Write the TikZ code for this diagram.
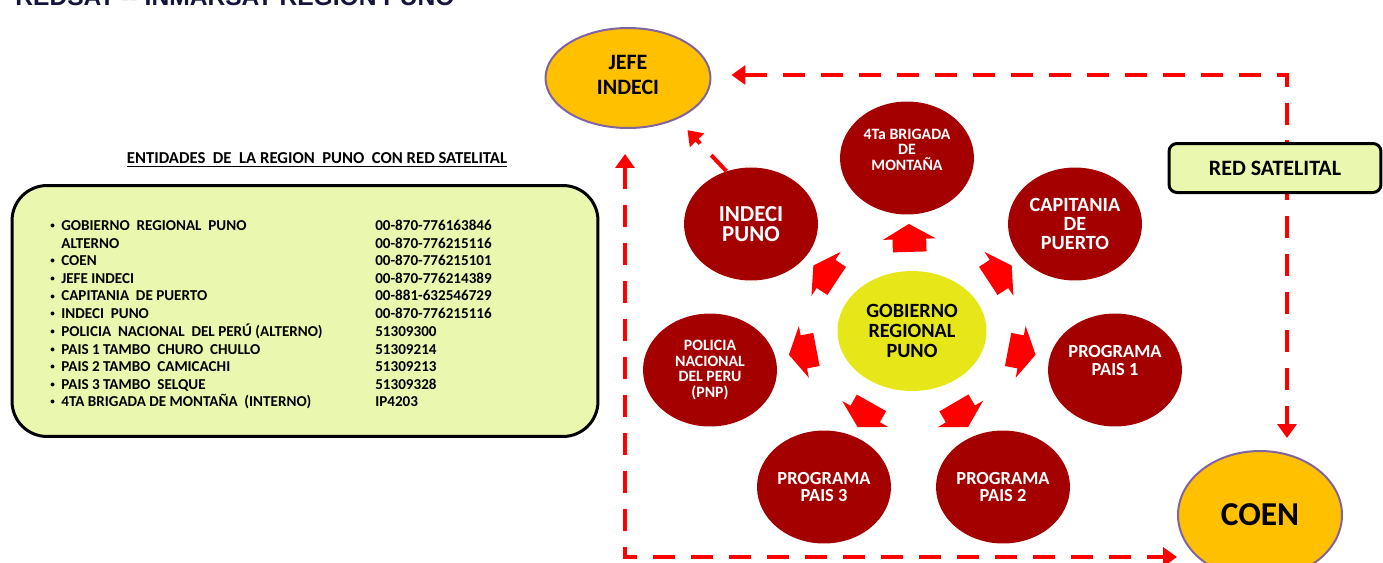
\documentclass[tikz,border=0pt]{standalone}
\usepackage{fontspec}
\setmainfont{Carlito}
\newfontfamily\titulofont{Liberation Sans}
\usepackage{tikz}
\usetikzlibrary{arrows.meta,shapes.geometric,shapes.arrows,calc}
\definecolor{rojo}{HTML}{A50000}
\definecolor{amarillo}{HTML}{E6E619}
\definecolor{naranja}{HTML}{FFC000}
\definecolor{lila}{HTML}{8064A2}
\definecolor{verdeclaro}{HTML}{EAF7AE}
\definecolor{marino}{HTML}{14143C}
\newcommand{\vineta}{\raisebox{0.25ex}{\scalebox{0.6}{\textbullet}}}

\begin{document}
\begin{tikzpicture}[x=0.02cm, y=-0.02cm, >={Triangle[length=0.28cm,width=0.38cm]},
  entidad/.style={ellipse, fill=rojo, text=white, align=center, inner sep=0pt, minimum width=2.68cm, minimum height=2.26cm},
  central/.style={ellipse, fill=amarillo, align=center, inner sep=0pt, minimum width=2.98cm, minimum height=2.4cm},
  destino/.style={ellipse, fill=naranja, draw=lila, line width=0.04cm, align=center, inner sep=0pt},
  flecha/.style={single arrow, fill=red, inner xsep=0pt, inner ysep=0.33cm, minimum height=0.56cm, single arrow head extend=0.19cm, single arrow tip angle=120},
  enlace/.style={draw=red, line width=0.08cm, dash pattern=on 0.44cm off 0.32cm},
  cuadro/.style={draw=black, line width=0.06cm, fill=verdeclaro, rounded corners=0.7cm, minimum width=11.72cm, minimum height=5.02cm}]
  \useasboundingbox (0,0) rectangle (1383,562);

  \node[anchor=base west, inner sep=0pt, text=marino, font=\titulofont\bfseries\fontsize{14}{16}\selectfont] (titulo) at (15,5) {REDSAT -- INMARSAT REGION PUNO};

  \node[font=\bfseries\fontsize{9.5}{11}\selectfont] (subtitulo) at (317,160) {\underline{ENTIDADES\ \ DE\ \ LA REGION\ \ PUNO\ \ CON RED SATELITAL}};
  \node[cuadro] (cuadro) at (305,311) {};
  \node[anchor=north west, inner sep=0pt, font=\bfseries\fontsize{8.6}{10}\selectfont] (lista) at (50,218) {%
    \begin{tabular}{@{}p{0.22cm}@{}p{6.28cm}@{}l@{}}
      \vineta & GOBIERNO\ \ REGIONAL\ \ PUNO & 00-870-776163846\\
              & ALTERNO & 00-870-776215116\\
      \vineta & COEN & 00-870-776215101\\
      \vineta & JEFE INDECI & 00-870-776214389\\
      \vineta & CAPITANIA\ \ DE PUERTO & 00-881-632546729\\
      \vineta & INDECI\ \ PUNO & 00-870-776215116\\
      \vineta & POLICIA\ \ NACIONAL\ \ DEL PERÚ (ALTERNO) & 51309300\\
      \vineta & PAIS 1 TAMBO\ \ CHURO\ \ CHULLO & 51309214\\
      \vineta & PAIS 2 TAMBO\ \ CAMICACHI & 51309213\\
      \vineta & PAIS 3 TAMBO\ \ SELQUE & 51309328\\
      \vineta & 4TA BRIGADA DE MONTAÑA\ \ (INTERNO) & IP4203
    \end{tabular}};

  \node[destino, minimum width=3.3cm, minimum height=2cm, font=\bfseries\fontsize{12.5}{14.5}\selectfont] (jefe) at (628,78) {JEFE\\INDECI\\[-11pt]};
  \node[destino, minimum width=3.28cm, minimum height=2.56cm, font=\bfseries\fontsize{19}{21}\selectfont] (coen) at (1260,515) {COEN};

  \node[central, font=\bfseries\fontsize{11.5}{11.5}\selectfont] (gobierno) at (912,331) {GOBIERNO\\REGIONAL\\PUNO};
  \node[entidad, font=\bfseries\fontsize{9}{8.8}\selectfont] (brigada) at (907,158) {4Ta BRIGADA\\DE\\MONTAÑA\\[1pt]};
  \node[entidad, font=\bfseries\fontsize{11.5}{11}\selectfont] (capitania) at (1075,224) {CAPITANIA\\DE\\PUERTO};
  \node[entidad, font=\bfseries\fontsize{10.5}{9.8}\selectfont] (pais1) at (1115,370) {PROGRAMA\\PAIS 1\\[1pt]};
  \node[entidad, font=\bfseries\fontsize{10.5}{9.8}\selectfont] (pais2) at (1003,487) {PROGRAMA\\PAIS 2};
  \node[entidad, font=\bfseries\fontsize{10.5}{9.8}\selectfont] (pais3) at (824,487) {PROGRAMA\\PAIS 3};
  \node[entidad, font=\bfseries\fontsize{9}{8.8}\selectfont] (policia) at (710,370) {POLICIA\\NACIONAL\\DEL PERU\\(PNP)};
  \node[entidad, font=\bfseries\fontsize{13}{11.5}\selectfont] (indeci) at (751,224) {INDECI\\PUNO};

  \path (gobierno) -- node[flecha, sloped, allow upside down] (f1) {} (brigada);
  \path (gobierno) -- node[flecha, sloped, allow upside down] (f2) {} (capitania);
  \path (gobierno) -- node[flecha, sloped, allow upside down] (f3) {} (pais1);
  \path (gobierno) -- node[flecha, sloped, allow upside down] (f4) {} (pais2);
  \path (gobierno) -- node[flecha, sloped, allow upside down] (f5) {} (pais3);
  \path (gobierno) -- node[flecha, sloped, allow upside down] (f6) {} (policia);
  \path (gobierno) -- node[flecha, sloped, allow upside down] (f7) {} (indeci);

  \draw[enlace, <->] ($(jefe.east)+(20,-3)$) -| ($(coen.north)+(27,-12)$);
  \draw[enlace, <->] ($(jefe.south)+(-3,25)$) |- ($(coen.west)+(0,42)$);
  \draw[enlace, ->, shorten >=0.3cm] (indeci.115) -- (jefe.-40);

  \node[draw=black, line width=0.06cm, fill=verdeclaro, rounded corners=0.16cm, minimum width=4.24cm, minimum height=0.98cm, font=\bfseries\fontsize{12.5}{14}\selectfont] (redsat) at (1275,168) {RED SATELITAL};
\end{tikzpicture}
\end{document}
